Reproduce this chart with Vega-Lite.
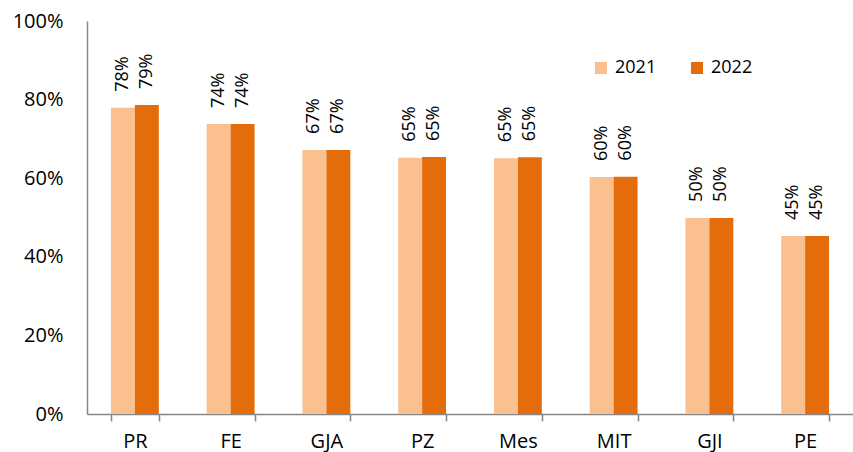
{
  "$schema": "https://vega.github.io/schema/vega-lite/v6.json",
  "width": 766,
  "height": 393,
  "autosize": {"type": "none"},
  "padding": {"left": 87, "top": 21, "right": 0, "bottom": 38},
  "config": {
    "view": {"stroke": null},
    "font": "Open Sans"
  },
  "data": {
    "values": [
      {"cat": "PR", "year": "2021", "value": 0.779},
      {"cat": "PR", "year": "2022", "value": 0.786},
      {"cat": "FE", "year": "2021", "value": 0.738},
      {"cat": "FE", "year": "2022", "value": 0.738},
      {"cat": "GJA", "year": "2021", "value": 0.672},
      {"cat": "GJA", "year": "2022", "value": 0.672},
      {"cat": "PZ", "year": "2021", "value": 0.652},
      {"cat": "PZ", "year": "2022", "value": 0.654},
      {"cat": "Mes", "year": "2021", "value": 0.651},
      {"cat": "Mes", "year": "2022", "value": 0.653},
      {"cat": "MIT", "year": "2021", "value": 0.603},
      {"cat": "MIT", "year": "2022", "value": 0.604},
      {"cat": "GJI", "year": "2021", "value": 0.499},
      {"cat": "GJI", "year": "2022", "value": 0.499},
      {"cat": "PE", "year": "2021", "value": 0.453},
      {"cat": "PE", "year": "2022", "value": 0.453}
    ]
  },
  "encoding": {
    "x": {
      "field": "cat",
      "type": "nominal",
      "sort": null,
      "scale": {"paddingInner": 0.5, "paddingOuter": 0.25},
      "axis": {
        "title": null,
        "labelAngle": 0,
        "labelFontSize": 20,
        "labelColor": "#000000",
        "labelPadding": 10,
        "tickBand": "extent",
        "tickSize": 7,
        "tickColor": "#868686",
        "tickWidth": 1.5,
        "domainColor": "#868686",
        "domainWidth": 1.5
      }
    },
    "xOffset": {"field": "year", "type": "nominal", "scale": {"paddingInner": 0, "paddingOuter": 0}},
    "y": {
      "field": "value",
      "type": "quantitative",
      "scale": {"domain": [0, 1], "nice": false},
      "axis": {
        "title": null,
        "format": ".0%",
        "values": [0, 0.2, 0.4, 0.6, 0.8, 1],
        "grid": false,
        "ticks": false,
        "labelFontSize": 20,
        "labelColor": "#000000",
        "labelPadding": 24,
        "domainColor": "#868686",
        "domainWidth": 1.5
      }
    }
  },
  "layer": [
    {
      "mark": {"type": "bar"},
      "encoding": {
        "color": {
          "field": "year",
          "type": "nominal",
          "scale": {"domain": ["2021", "2022"], "range": ["#FAC090", "#E46C0A"]},
          "legend": {
            "title": null,
            "orient": "none",
            "direction": "horizontal",
            "legendX": 505,
            "legendY": 38,
            "symbolType": "square",
            "symbolSize": 144,
            "symbolStrokeWidth": 0,
            "labelFontSize": 18,
            "labelColor": "#000000",
            "labelOffset": 5,
            "columnPadding": 31
          }
        }
      }
    },
    {
      "mark": {
        "type": "text",
        "angle": -90,
        "align": "left",
        "baseline": "middle",
        "yOffset": -16,
        "fontSize": 18,
        "color": "#000000"
      },
      "encoding": {
        "text": {"field": "value", "type": "quantitative", "format": ".0%"}
      }
    }
  ]
}
